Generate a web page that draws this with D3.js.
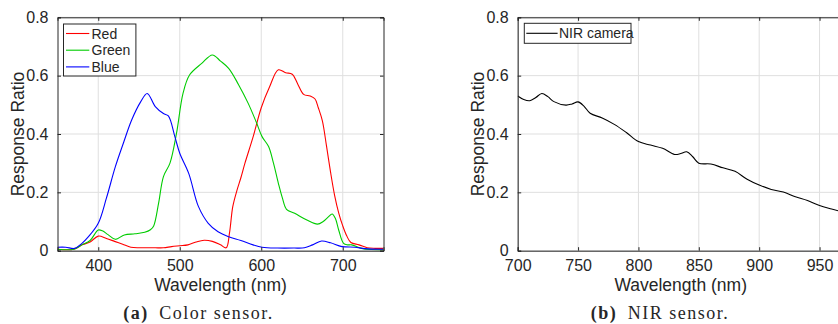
<!DOCTYPE html>
<html><head><meta charset="utf-8">
<script src="https://cdn.jsdelivr.net/npm/d3@7"></script>
<style>
html,body{margin:0;padding:0;background:#fff;overflow:hidden}
svg{display:block}
text{font-family:"Liberation Sans",Arial,Helvetica,sans-serif;fill:#262626}
</style></head><body>
<svg id="chart" width="838" height="324"></svg>
<script>
// ---- Data ----
const redWl  = [350,370,380,390,400,410,420,430,440,450,460,470,480,490,500,510,520,530,540,550,557,561,565,570,575,580,590,600,610,621,630,638,645,652,660,666,670,675,680,685,690,695,700,705,710,720,730,740,750];
const redVal = [0.005,0.005,0.02,0.03,0.05,0.042,0.032,0.022,0.012,0.01,0.01,0.01,0.01,0.014,0.017,0.02,0.03,0.036,0.032,0.02,0.01,0.06,0.15,0.205,0.25,0.3,0.39,0.49,0.56,0.62,0.61,0.605,0.57,0.536,0.53,0.52,0.49,0.445,0.36,0.27,0.19,0.13,0.085,0.05,0.028,0.02,0.01,0.008,0.008];

const greenWl  = [350,370,380,390,400,405,412,421,432,445,457,464,468,474,480,488,496,504,512,527,540,550,560,572,584,594,601,609,615,621,626,631,641,656,669,676,682,687,691,695,701,706,711,723,735,750];
const greenVal = [0.005,0.005,0.02,0.035,0.071,0.068,0.055,0.039,0.054,0.058,0.063,0.072,0.085,0.162,0.254,0.3,0.402,0.539,0.602,0.642,0.671,0.65,0.625,0.57,0.505,0.44,0.391,0.357,0.3,0.231,0.18,0.142,0.128,0.105,0.091,0.1,0.115,0.126,0.11,0.071,0.025,0.02,0.02,0.008,0.004,0.003];

const blueWl  = [350,360,371,380,388,400,410,421,431,441,452,460,470,480,486,494,500,511,523,535,547,560,575,590,601,620,640,653,663,674,685,699,715,727,750];
const blueVal = [0.012,0.012,0.008,0.025,0.048,0.094,0.18,0.288,0.37,0.448,0.51,0.539,0.494,0.47,0.462,0.391,0.334,0.265,0.151,0.094,0.065,0.048,0.035,0.02,0.012,0.009,0.009,0.01,0.02,0.033,0.027,0.014,0.012,0.007,0.005];

const nirWl  = [700,705,710,715,720,725,730,740,745,750,755,760,770,780,790,800,810,820,830,835,840,845,850,860,870,880,890,900,910,920,930,940,950,960,970];
const nirVal = [0.530,0.518,0.514,0.525,0.539,0.528,0.511,0.499,0.503,0.510,0.495,0.471,0.455,0.433,0.405,0.374,0.362,0.351,0.330,0.333,0.339,0.322,0.300,0.297,0.284,0.272,0.245,0.225,0.210,0.201,0.185,0.172,0.155,0.143,0.132];

const colorTicksX = [400,500,600,700];
const nirTicksX   = [700,750,800,850,900,950];
const ticksY      = [0,0.2,0.4,0.6,0.8];
const yTickLabels = ["0","0.2","0.4","0.6","0.8"];

const colorSeries = [
  {name:"Red",   wl:redWl,   val:redVal,   color:"#ff0000"},
  {name:"Green", wl:greenWl, val:greenVal, color:"#00cc00"},
  {name:"Blue",  wl:blueWl,  val:blueVal,  color:"#0000ff"}
];
const nirSeries = [
  {name:"NIR camera", wl:nirWl, val:nirVal, color:"#000000"}
];

const svg = d3.select("#chart");

function panel(opt){
  const {left, top, width, height, xDomain, xTicks, series, legend, caption, captionBold, captionCx, xTickFmt} = opt;
  const g = svg.append("g").attr("transform",`translate(${left},${top})`);
  const x = d3.scaleLinear().domain(xDomain).range([0,width]);
  const y = d3.scaleLinear().domain([0,0.8]).range([height,0]);
  const clipId = "clip"+Math.round(left);
  g.append("clipPath").attr("id",clipId).append("rect").attr("width",width).attr("height",height);

  // grid
  const grid = g.append("g");
  grid.selectAll("line.gx").data(xTicks).enter().append("line")
    .attr("x1",d=>x(d)).attr("x2",d=>x(d)).attr("y1",0).attr("y2",height)
    .attr("stroke","#dfdfdf").attr("stroke-width",1);
  grid.selectAll("line.gy").data(ticksY).enter().append("line")
    .attr("y1",d=>y(d)).attr("y2",d=>y(d)).attr("x1",0).attr("x2",width)
    .attr("stroke","#dfdfdf").attr("stroke-width",1);

  // lines
  const line = d3.line().curve(d3.curveCatmullRom.alpha(0.5));
  const lg = g.append("g").attr("clip-path",`url(#${clipId})`);
  series.forEach(s=>{
    lg.append("path")
      .attr("d", line(s.wl.map((w,i)=>[x(w), y(s.val[i])])))
      .attr("fill","none").attr("stroke",s.color).attr("stroke-width",1.1);
  });

  // axes (inward ticks, box)
  const tl = 3.5;
  const ax = g.append("g").attr("transform",`translate(0,${height})`)
    .call(d3.axisBottom(x).tickValues(xTicks).tickSize(-tl).tickPadding(9).tickFormat(xTickFmt||d3.format("d")));
  const axT = g.append("g")
    .call(d3.axisTop(x).tickValues(xTicks).tickSize(-tl).tickFormat(""));
  const ay = g.append("g")
    .call(d3.axisLeft(y).tickValues(ticksY).tickSize(-tl).tickPadding(9).tickFormat((d,i)=>yTickLabels[i]));
  const ayR = g.append("g").attr("transform",`translate(${width},0)`)
    .call(d3.axisRight(y).tickValues(ticksY).tickSize(-tl).tickFormat(""));
  [ax,axT,ay,ayR].forEach(a=>{
    a.select(".domain").attr("stroke","#262626").attr("stroke-width",1);
    a.selectAll(".tick line").attr("stroke","#262626");
    a.selectAll("text").style("font-size","16px").attr("fill","#262626");
  });
  ax.selectAll("text").attr("dy","0.71em");

  // axis labels
  g.append("text").attr("x",width/2).attr("y",height+40)
    .attr("text-anchor","middle").style("font-size","17.5px").text("Wavelength (nm)");
  g.append("text").attr("transform",`translate(-34,${height/2}) rotate(-90)`)
    .attr("text-anchor","middle").style("font-size","17.5px").text("Response Ratio");

  // legend
  const L = g.append("g").attr("transform",`translate(${legend.x},${legend.y})`);
  L.append("rect").attr("width",legend.w).attr("height",legend.h)
    .attr("fill","#fff").attr("stroke","#262626").attr("stroke-width",1);
  series.forEach((s,i)=>{
    const cy = legend.row0 + i*legend.dy;
    L.append("line").attr("x1",legend.lx0).attr("x2",legend.lx1).attr("y1",cy).attr("y2",cy)
      .attr("stroke",s.color).attr("stroke-width",1.1);
    L.append("text").attr("x",legend.tx).attr("y",cy).attr("dy","0.36em")
      .style("font-size","14px").attr("fill","#000").text(s.name);
  });

  // caption
  const cap = svg.append("text").attr("x",captionCx).attr("y",319).attr("text-anchor","middle")
    .style("font-family","'Liberation Serif','DejaVu Serif',serif").style("font-size","18px")
    .style("letter-spacing","1.5px").attr("fill","#000");
  cap.append("tspan").style("font-weight","bold").text(captionBold);
  cap.append("tspan").text("\u2002"+caption);
}

panel({left:57.5, top:17.3, width:326, height:233.4, xDomain:[350,750], xTicks:colorTicksX,
  series:colorSeries, captionBold:"(a)", caption:"Color sensor.", captionCx:198.5,
  legend:{x:6, y:6.7, w:72.4, h:52, row0:9.5, dy:16.7, lx0:2.5, lx1:25.8, tx:28}});

panel({left:517.7, top:17.3, width:326, height:233.4, xDomain:[700,970], xTicks:nirTicksX,
  series:nirSeries, captionBold:"(b)", caption:"NIR sensor.", captionCx:660,
  legend:{x:6.6, y:6, w:106.7, h:20, row0:10, dy:16.7, lx0:2, lx1:33.3, tx:34.6}});
</script>
</body></html>
